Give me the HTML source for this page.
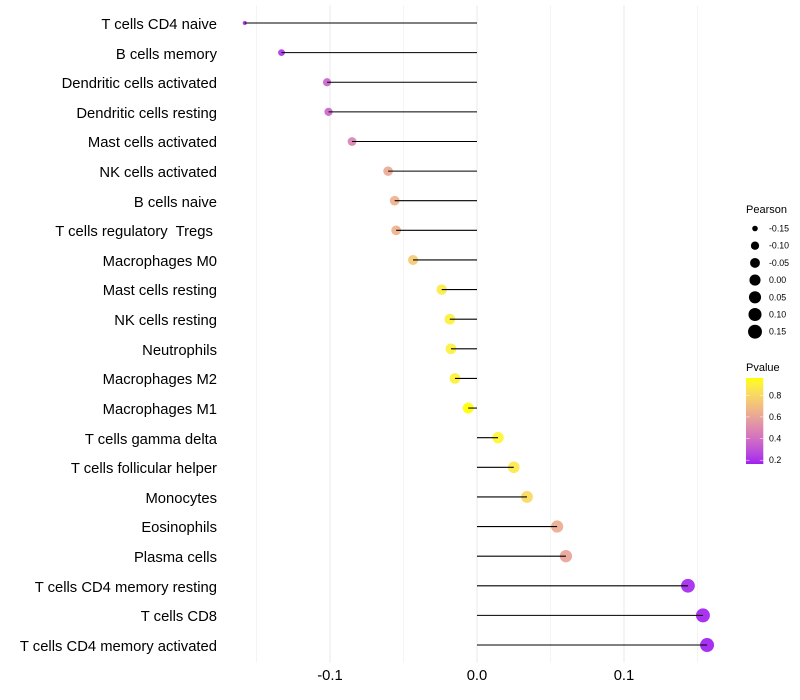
<!DOCTYPE html>
<html>
<head>
<meta charset="utf-8">
<title>Lollipop chart</title>
<style>
html,body{margin:0;padding:0;background:#fff;width:800px;height:700px;overflow:hidden}
svg{display:block}
text{font-family:"Liberation Sans",sans-serif}
</style>
</head>
<body>
<svg id="chart" xmlns="http://www.w3.org/2000/svg" width="800" height="700" viewBox="0 0 800 700">
  <defs>
    <linearGradient id="pvalue-gradient" x1="0" y1="1" x2="0" y2="0"></linearGradient>
  </defs>
  <rect width="800" height="700" fill="#ffffff"></rect>
  <g id="grid"></g>
  <g id="points"></g>
  <g id="segments"></g>
  <g id="ylabels"></g>
  <g id="xlabels"></g>
  <g id="size-legend">
    <text x="746" y="213" font-size="11" fill="#000">Pearson</text>
  </g>
  <g id="color-legend">
    <text x="746" y="371" font-size="11" fill="#000">Pvalue</text>
  </g>
</svg>
<script>
const categories = ["T cells CD4 naive","B cells memory","Dendritic cells activated","Dendritic cells resting","Mast cells activated","NK cells activated","B cells naive","T cells regulatory  Tregs ","Macrophages M0","Mast cells resting","NK cells resting","Neutrophils","Macrophages M2","Macrophages M1","T cells gamma delta","T cells follicular helper","Monocytes","Eosinophils","Plasma cells","T cells CD4 memory resting","T cells CD8","T cells CD4 memory activated"];
const pearson = [-0.158,-0.133,-0.102,-0.101,-0.085,-0.0605,-0.056,-0.055,-0.0435,-0.024,-0.0185,-0.0177,-0.015,-0.006,0.0143,0.025,0.034,0.0545,0.0605,0.1435,0.1537,0.1565];
const pvalues = [0.18,0.22,0.36,0.37,0.47,0.62,0.65,0.65,0.75,0.88,0.9,0.9,0.91,0.96,0.92,0.87,0.81,0.63,0.6,0.18,0.17,0.165];
const xTicks = [-0.1,0,0.1];
const xTickLabels = ["-0.1","0.0","0.1"];
const xMinorTicks = [-0.15,-0.05,0.05,0.15];
const sizeBreaks = [-0.15,-0.10,-0.05,0,0.05,0.10,0.15];
const sizeLabels = ["-0.15","-0.10","-0.05","0.00","0.05","0.10","0.15"];
const colorBreaks = [0.2,0.4,0.6,0.8];
const colorLabels = ["0.2","0.4","0.6","0.8"];

const NS = "http://www.w3.org/2000/svg";
function make(tag, parent, attrs) {
  const el = document.createElementNS(NS, tag);
  for (const k in attrs) el.setAttribute(k, attrs[k]);
  parent.appendChild(el);
  return el;
}
const xScale = v => 477 + v * 1470;
const rowY = i => 23.0 + i * 29.62;
const sMin = Math.min(...pearson), sMax = Math.max(...pearson);
const pMin = Math.min(...pvalues), pMax = Math.max(...pvalues);
function radius(v) {
  const t = Math.max(0, Math.min(1, (v - sMin) / (sMax - sMin)));
  return (4 + 10 * Math.sqrt(t)) / 2;
}
function rgb2lab(c) {
  const f = u => { u /= 255; return u > 0.04045 ? Math.pow((u + 0.055) / 1.055, 2.4) : u / 12.92; };
  const r = f(c[0]), g = f(c[1]), b = f(c[2]);
  const X = (0.4124 * r + 0.3576 * g + 0.1805 * b) / 0.95047;
  const Y = 0.2126 * r + 0.7152 * g + 0.0722 * b;
  const Z = (0.0193 * r + 0.1192 * g + 0.9505 * b) / 1.08883;
  const h = t => t > 0.008856 ? Math.cbrt(t) : 7.787 * t + 16 / 116;
  return [116 * h(Y) - 16, 500 * (h(X) - h(Y)), 200 * (h(Y) - h(Z))];
}
function lab2rgb(l) {
  const fy = (l[0] + 16) / 116, fx = l[1] / 500 + fy, fz = fy - l[2] / 200;
  const h = t => t * t * t > 0.008856 ? t * t * t : (t - 16 / 116) / 7.787;
  const X = 0.95047 * h(fx), Y = h(fy), Z = 1.08883 * h(fz);
  const g = u => { u = u > 0.0031308 ? 1.055 * Math.pow(u, 1 / 2.4) - 0.055 : 12.92 * u; return Math.round(255 * Math.max(0, Math.min(1, u))); };
  return "rgb(" + g(3.2406 * X - 1.5372 * Y - 0.4986 * Z) + "," + g(-0.9689 * X + 1.8758 * Y + 0.0415 * Z) + "," + g(0.0557 * X - 0.204 * Y + 1.057 * Z) + ")";
}
const labLow = rgb2lab([160, 32, 240]), labHigh = rgb2lab([255, 255, 0]);
function colorAt(t) {
  return lab2rgb(labLow.map((v, i) => v + (labHigh[i] - v) * t));
}
const colorScale = p => colorAt((p - pMin) / (pMax - pMin));

const gridG = document.getElementById("grid");
xMinorTicks.forEach(v => {
  const l = make("line", gridG, {x1: xScale(v), x2: xScale(v), y1: 5.2, y2: 662.8, stroke: "#ebebeb", "stroke-width": 0.55});
  
  
});
xTicks.forEach(v => {
  const l = make("line", gridG, {x1: xScale(v), x2: xScale(v), y1: 5.2, y2: 662.8, stroke: "#ebebeb", "stroke-width": 1.07});
  
  
});

const pointsG = document.getElementById("points");
const segG = document.getElementById("segments");
const yG = document.getElementById("ylabels");
categories.forEach((name, i) => {
  const y = rowY(i);
  const c = make("circle", pointsG, {cx: xScale(pearson[i]), cy: y, r: radius(pearson[i]), fill: colorScale(pvalues[i]), "fill-opacity": 0.92});
  
  
  const s = make("line", segG, {x1: xScale(pearson[i]), x2: xScale(0), y1: y, y2: y, stroke: "#000", "stroke-width": 1.07});
  
  
  const t = make("text", yG, {x: 217, y: Math.round(y + 5.9), "text-anchor": "end", "font-size": 14.8, fill: "#000"});
  
  
  t.style.whiteSpace = "pre";
  t.textContent = name;
});

const xG = document.getElementById("xlabels");
xTicks.forEach((v, i) => {
  const t = make("text", xG, {x: xScale(v), y: 680, "text-anchor": "middle", "font-size": 14.8, fill: "#000"});
  
  
  t.textContent = xTickLabels[i];
});

const sizeG = document.getElementById("size-legend");
sizeBreaks.forEach((v, i) => {
  const y = 228.5 + i * 17.2;
  const c = make("circle", sizeG, {cx: 755, cy: y, r: radius(v), fill: "#000"});
  
  
  const t = make("text", sizeG, {x: 769, y: y + 3, "font-size": 8.8, fill: "#000"});
  
  
  t.textContent = sizeLabels[i];
});

const barTop = 378, barBottom = 464;
const barLow = 0.165, barHigh = 0.96;
const grad = document.getElementById("pvalue-gradient");
for (let i = 0; i <= 20; i++) {
  make("stop", grad, {offset: i / 20, "stop-color": colorAt(i / 20)});
}
const colorG = document.getElementById("color-legend");
const bar = make("rect", colorG, {x: 746, y: barTop, width: 17.3, height: barBottom - barTop, fill: "url(#pvalue-gradient)"});


colorBreaks.forEach((v, i) => {
  const y = barBottom - (v - barLow) / (barHigh - barLow) * (barBottom - barTop);
  const a = make("line", colorG, {x1: 746, x2: 749.5, y1: y, y2: y, stroke: "#fff", "stroke-width": 0.5});
  
  
  const b = make("line", colorG, {x1: 759.8, x2: 763.3, y1: y, y2: y, stroke: "#fff", "stroke-width": 0.5});
  
  
  const t = make("text", colorG, {x: 769, y: y + 3, "font-size": 8.8, fill: "#000"});
  
  
  t.textContent = colorLabels[i];
});
</script>
</body>
</html>
